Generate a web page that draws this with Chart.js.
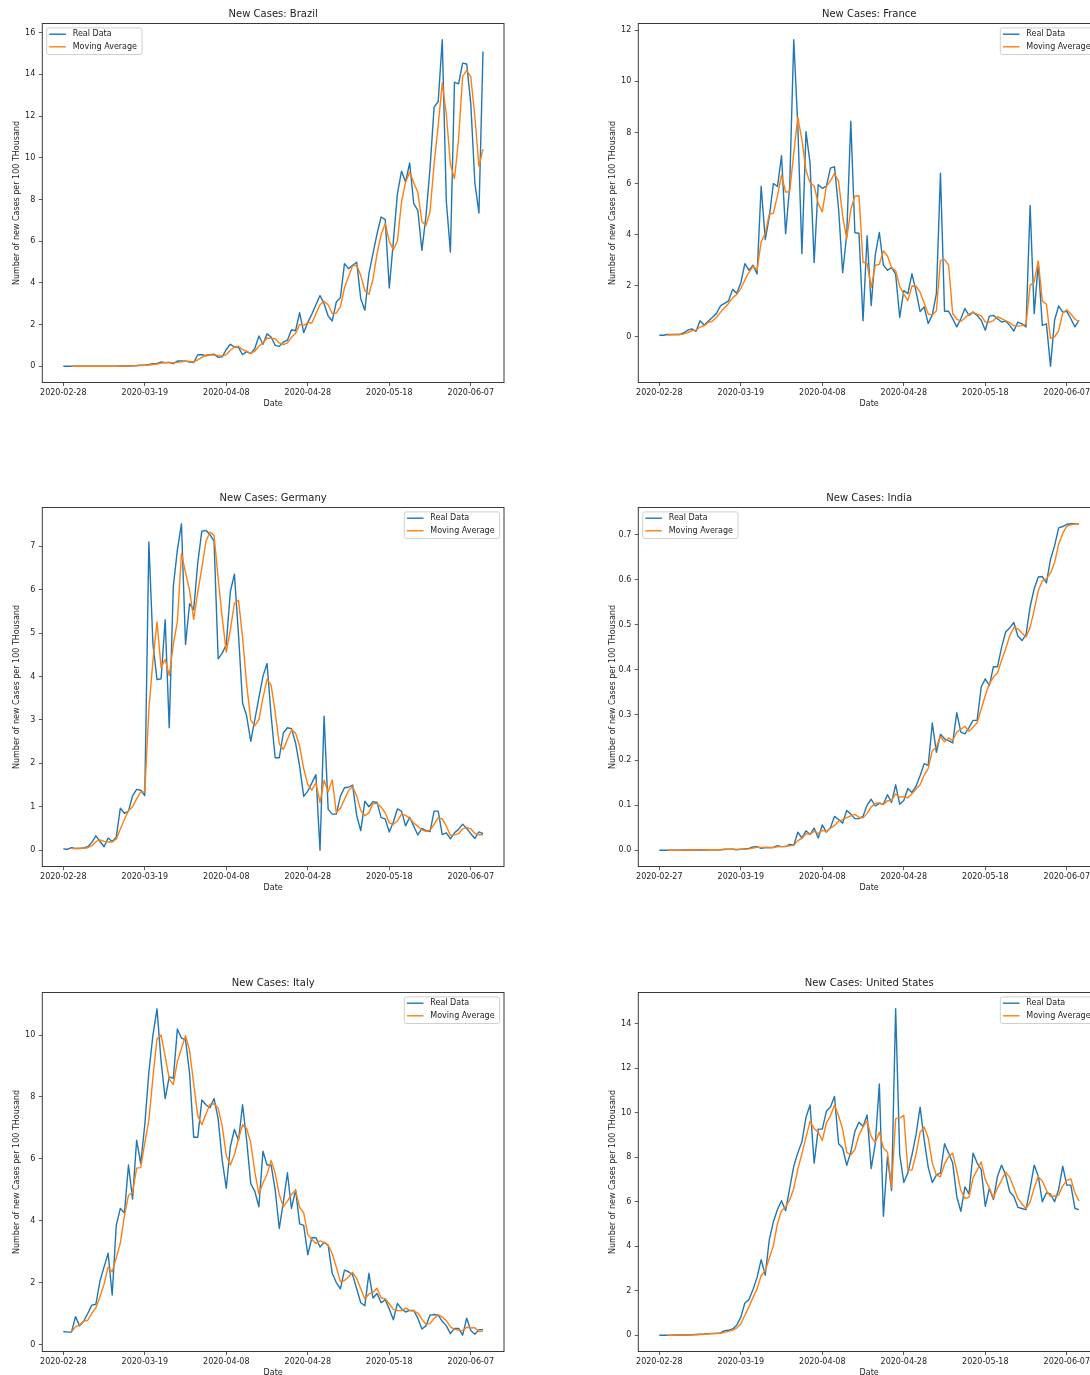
<!DOCTYPE html>
<html>
<head>
<meta charset="utf-8">
<script src="https://cdn.jsdelivr.net/npm/chart.js@4.4.1/dist/chart.umd.min.js"></script>
<style>
  html, body { margin: 0; padding: 0; background: #fff; width: 1090px; height: 1375px; overflow: hidden; }
  canvas { position: absolute; }
</style>
</head>
<body>
<canvas id="c0" width="520" height="413" style="left:0px;top:0px"></canvas>
<canvas id="c1" width="520" height="413" style="left:596px;top:0px"></canvas>
<canvas id="c2" width="520" height="413" style="left:0px;top:484px"></canvas>
<canvas id="c3" width="520" height="413" style="left:596px;top:484px"></canvas>
<canvas id="c4" width="520" height="413" style="left:0px;top:969px"></canvas>
<canvas id="c5" width="520" height="413" style="left:596px;top:969px"></canvas>
<script>
// Daily new cases per 100 thousand inhabitants, 28 Feb - 10 Jun 2020 (day index 0..103),
// with the 3-day moving average (undefined for the first two days).

const xTickDays = [0, 20, 40, 60, 80, 100];
const xTickLabels = ['2020-02-28', '2020-03-19', '2020-04-08', '2020-04-28', '2020-05-18', '2020-06-07'];
const xTickLabelsIndia = ['2020-02-27', '2020-03-19', '2020-04-08', '2020-04-28', '2020-05-18', '2020-06-07'];

const brazilYTicks = [0, 2, 4, 6, 8, 10, 12, 14, 16];
const franceYTicks = [0, 2, 4, 6, 8, 10, 12];
const germanyYTicks = [0, 1, 2, 3, 4, 5, 6, 7];
const indiaYTicks = [0, 0.1, 0.2, 0.3, 0.4, 0.5, 0.6, 0.7];
const italyYTicks = [0, 2, 4, 6, 8, 10];
const usYTicks = [0, 2, 4, 6, 8, 10, 12, 14];

const brazilReal = [
  0, 0, 0, 0, 0, 0, 0, 0, 0, 0,
  0, 0, 0, 0, 0.01, 0.01, 0.01, 0.02, 0.03, 0.05,
  0.05, 0.08, 0.12, 0.12, 0.2, 0.17, 0.18, 0.12, 0.25, 0.25,
  0.24, 0.2, 0.17, 0.55, 0.55, 0.5, 0.55, 0.58, 0.42, 0.45,
  0.8, 1.05, 0.92, 0.9, 0.55, 0.7, 0.6, 0.85, 1.45, 1.05,
  1.55, 1.4, 1.0, 0.95, 1.15, 1.25, 1.75, 1.7, 2.57, 1.61,
  2.1, 2.5, 2.95, 3.39, 3.0, 2.41, 2.17, 3.08, 3.29, 4.92,
  4.68, 4.84, 4.99, 3.24, 2.68, 4.44, 5.4, 6.36, 7.16, 7.03,
  3.75, 6.0, 8.28, 9.36, 8.84, 9.75, 7.8, 7.48, 5.56, 7.2,
  9.5, 12.43, 12.7, 15.66, 7.9, 5.48, 13.63, 13.55, 14.54, 14.5,
  12.6, 8.8, 7.35, 15.1
];
const brazilAvg = [
  null, null, 0, 0, 0, 0, 0, 0, 0, 0,
  0, 0, 0, 0, 0.003, 0.007, 0.01, 0.013, 0.02, 0.033,
  0.043, 0.06, 0.083, 0.107, 0.147, 0.163, 0.183, 0.157, 0.183, 0.207,
  0.247, 0.23, 0.203, 0.307, 0.423, 0.533, 0.533, 0.543, 0.517, 0.483,
  0.557, 0.767, 0.923, 0.957, 0.79, 0.717, 0.617, 0.717, 0.967, 1.117,
  1.35, 1.333, 1.317, 1.117, 1.033, 1.117, 1.383, 1.567, 2.007, 1.96,
  2.093, 2.07, 2.517, 2.947, 3.113, 2.933, 2.527, 2.553, 2.847, 3.763,
  4.297, 4.813, 4.837, 4.357, 3.637, 3.453, 4.173, 5.4, 6.307, 6.85,
  5.98, 5.593, 6.01, 7.88, 8.827, 9.317, 8.797, 8.343, 6.947, 6.747,
  7.42, 9.71, 11.543, 13.597, 12.087, 9.68, 9.003, 10.887, 13.907, 14.197,
  13.88, 11.967, 9.583, 10.417
];

const franceReal = [
  0.05, 0.05, 0.08, 0.08, 0.08, 0.08, 0.15, 0.25, 0.3, 0.2,
  0.62, 0.45, 0.6, 0.75, 0.9, 1.2, 1.3, 1.4, 1.85, 1.7,
  2.1, 2.86, 2.6, 2.8, 2.45, 5.89, 3.8, 4.7, 6.0, 5.88,
  7.09, 4.03, 5.9, 11.63, 8.24, 3.25, 8.03, 6.8, 2.9, 5.95,
  5.81, 5.9, 6.6, 6.66, 5.0, 2.5, 4.0, 8.44, 4.07, 4.05,
  0.62, 3.95, 1.22, 3.2, 4.08, 2.8, 2.6, 2.7, 2.45, 0.75,
  1.8, 1.68, 2.46, 1.78, 0.98, 1.16, 0.51, 0.85, 1.68, 6.4,
  0.99, 0.99, 0.7, 0.38, 0.7, 1.1, 0.83, 0.96, 0.83, 0.64,
  0.25, 0.8, 0.83, 0.7, 0.57, 0.61, 0.44, 0.22, 0.57, 0.5,
  0.38, 5.14, 0.9, 2.86, 0.44, 0.5, -1.16, 0.64, 1.2, 0.96,
  0.99, 0.7, 0.38, 0.64
];
const franceAvg = [
  null, null, 0.06, 0.07, 0.08, 0.08, 0.103, 0.16, 0.233, 0.25,
  0.373, 0.423, 0.557, 0.6, 0.75, 0.95, 1.133, 1.3, 1.517, 1.65,
  1.883, 2.22, 2.52, 2.753, 2.617, 3.713, 4.047, 4.797, 4.833, 5.527,
  6.323, 5.667, 5.673, 7.187, 8.59, 7.707, 6.507, 6.027, 5.91, 5.217,
  4.887, 5.887, 6.103, 6.387, 6.087, 4.72, 3.833, 4.98, 5.503, 5.52,
  2.913, 2.873, 1.93, 2.79, 2.833, 3.36, 3.16, 2.7, 2.583, 1.967,
  1.667, 1.41, 1.98, 1.973, 1.74, 1.307, 0.883, 0.84, 1.013, 2.977,
  3.023, 2.793, 0.893, 0.69, 0.593, 0.727, 0.877, 0.963, 0.873, 0.81,
  0.573, 0.563, 0.627, 0.777, 0.7, 0.627, 0.54, 0.423, 0.41, 0.43,
  0.483, 2.007, 2.14, 2.967, 1.4, 1.267, -0.073, -0.007, 0.227, 0.933,
  1.05, 0.883, 0.69, 0.573
];

const germanyReal = [
  0.03, 0.02, 0.06, 0.04, 0.04, 0.05, 0.08, 0.18, 0.33, 0.2,
  0.08, 0.28, 0.2, 0.3, 0.97, 0.85, 0.9, 1.25, 1.4, 1.38,
  1.26, 7.1, 4.75, 3.93, 3.95, 5.31, 2.82, 6.08, 6.92, 7.52,
  4.74, 5.68, 5.54, 6.62, 7.35, 7.37, 7.27, 7.12, 4.41, 4.54,
  4.74, 5.96, 6.36, 4.96, 3.39, 3.09, 2.51, 3.01, 3.51, 4.01,
  4.3, 3.1, 2.13, 2.13, 2.7, 2.82, 2.8, 2.47, 1.93, 1.24,
  1.36, 1.55, 1.74, 0.0, 3.09, 0.94, 0.83, 0.83, 1.24, 1.44,
  1.45, 1.5, 0.8, 0.45, 1.13, 1.0, 1.12, 1.1, 0.75, 0.72,
  0.42, 0.65, 0.95, 0.9, 0.56, 0.76, 0.55, 0.35, 0.5, 0.45,
  0.43, 0.9, 0.9, 0.36, 0.4, 0.26, 0.4, 0.48, 0.6, 0.5,
  0.38, 0.27, 0.42, 0.38
];
const germanyAvg = [
  null, null, 0.037, 0.04, 0.047, 0.043, 0.057, 0.103, 0.197, 0.237,
  0.203, 0.187, 0.187, 0.26, 0.49, 0.707, 0.907, 1.0, 1.183, 1.343,
  1.347, 3.247, 4.37, 5.26, 4.21, 4.397, 4.027, 4.737, 5.273, 6.84,
  6.393, 5.98, 5.32, 5.947, 6.503, 7.113, 7.33, 7.253, 6.267, 5.357,
  4.563, 5.08, 5.687, 5.76, 4.903, 3.813, 2.997, 2.87, 3.01, 3.51,
  3.94, 3.803, 3.177, 2.453, 2.32, 2.55, 2.773, 2.697, 2.4, 1.88,
  1.51, 1.383, 1.55, 1.097, 1.61, 1.343, 1.62, 0.867, 0.967, 1.17,
  1.377, 1.463, 1.25, 0.917, 0.793, 0.86, 1.083, 1.073, 0.99, 0.857,
  0.63, 0.597, 0.673, 0.833, 0.803, 0.74, 0.623, 0.553, 0.467, 0.433,
  0.46, 0.593, 0.743, 0.72, 0.553, 0.34, 0.353, 0.38, 0.493, 0.527,
  0.493, 0.383, 0.357, 0.357
];

const indiaReal = [
  0, 0, 0, 0, 0, 0, 0.0005, 0.0005, 0.0005, 0.0005,
  0.001, 0.0005, 0.001, 0.001, 0.001, 0.001, 0.002, 0.002, 0.002, 0.001,
  0.002, 0.003, 0.004, 0.007, 0.008, 0.004, 0.006, 0.006, 0.006, 0.01,
  0.008, 0.008, 0.013, 0.011, 0.04, 0.027, 0.043, 0.035, 0.049, 0.027,
  0.056, 0.04, 0.05, 0.075, 0.068, 0.06, 0.088, 0.08, 0.07, 0.07,
  0.075, 0.1, 0.113, 0.098, 0.104, 0.102, 0.123, 0.106, 0.145, 0.102,
  0.11, 0.137, 0.128, 0.142, 0.165, 0.192, 0.188, 0.282, 0.217, 0.257,
  0.247, 0.243, 0.238, 0.305, 0.262, 0.258, 0.272, 0.288, 0.288, 0.362,
  0.38, 0.365, 0.407, 0.407, 0.45, 0.484, 0.493, 0.505, 0.475, 0.465,
  0.478, 0.54, 0.58, 0.606, 0.607, 0.593, 0.645, 0.675, 0.715, 0.718,
  0.723, 0.724, 0.724, 0.724
];
const indiaAvg = [
  null, null, 0, 0, 0, 0, 0.0002, 0.0003, 0.0005, 0.0005,
  0.0007, 0.0007, 0.0008, 0.0008, 0.001, 0.001, 0.0013, 0.0017, 0.002, 0.0017,
  0.0017, 0.002, 0.003, 0.0047, 0.0063, 0.0063, 0.006, 0.0053, 0.006, 0.0073,
  0.008, 0.0087, 0.0097, 0.0107, 0.0213, 0.026, 0.0367, 0.035, 0.0423, 0.037,
  0.044, 0.041, 0.0487, 0.055, 0.0643, 0.0677, 0.072, 0.076, 0.0793, 0.0733,
  0.0717, 0.0817, 0.096, 0.1037, 0.105, 0.1013, 0.1097, 0.1103, 0.1247, 0.1177,
  0.119, 0.1163, 0.125, 0.1357, 0.145, 0.1663, 0.1817, 0.2207, 0.229, 0.252,
  0.2403, 0.249, 0.2427, 0.262, 0.2683, 0.275, 0.264, 0.2727, 0.2827, 0.3127,
  0.3433, 0.369, 0.384, 0.393, 0.4213, 0.447, 0.4757, 0.494, 0.491, 0.4817,
  0.4727, 0.4943, 0.5327, 0.5753, 0.5977, 0.602, 0.615, 0.6377, 0.6783, 0.7027,
  0.7187, 0.7217, 0.7237, 0.724
];

const italyReal = [
  0.42, 0.4, 0.4, 0.9, 0.6, 0.75, 1.0, 1.27, 1.3, 2.05,
  2.5, 2.95, 1.6, 3.85, 4.4, 4.25, 5.8, 4.7, 6.6, 5.85,
  7.1, 8.8, 10.0, 10.85, 9.15, 7.95, 8.65, 8.6, 10.2, 9.9,
  9.85, 8.75, 6.7, 6.7, 7.9, 7.75, 7.65, 7.95, 7.3, 5.95,
  5.05, 6.4, 6.95, 6.6, 7.75, 6.6, 5.2, 4.95, 4.45, 6.25,
  5.8, 5.8, 5.0, 3.75, 4.6, 5.55, 4.4, 5.0, 3.9, 3.85,
  2.9, 3.45, 3.45, 3.15, 3.3, 3.2, 2.3, 2.0, 1.8, 2.4,
  2.35, 2.25, 1.8, 1.35, 1.25, 2.3, 1.5, 1.65, 1.35, 1.45,
  1.15, 0.8, 1.33, 1.15, 1.05, 1.1, 1.1, 0.85, 0.5, 0.6,
  0.95, 0.97, 0.95, 0.75, 0.6, 0.35, 0.52, 0.52, 0.3, 0.85,
  0.45, 0.33, 0.48, 0.48
];
const italyAvg = [
  null, null, 0.407, 0.567, 0.633, 0.75, 0.783, 1.007, 1.19, 1.54,
  1.95, 2.5, 2.35, 2.8, 3.283, 4.167, 4.817, 4.917, 5.7, 5.717,
  6.517, 7.25, 8.633, 9.883, 10.0, 9.317, 8.583, 8.4, 9.15, 9.567,
  9.983, 9.5, 8.433, 7.383, 7.1, 7.45, 7.767, 7.783, 7.633, 7.067,
  6.1, 5.8, 6.133, 6.65, 7.1, 6.983, 6.517, 5.583, 4.867, 5.217,
  5.5, 5.95, 5.533, 4.85, 4.45, 4.633, 4.85, 4.983, 4.433, 4.25,
  3.55, 3.4, 3.267, 3.35, 3.3, 3.217, 2.933, 2.5, 2.033, 2.067,
  2.183, 2.333, 2.133, 1.8, 1.467, 1.633, 1.683, 1.817, 1.5, 1.483,
  1.317, 1.133, 1.093, 1.093, 1.177, 1.1, 1.083, 1.017, 0.817, 0.65,
  0.683, 0.84, 0.957, 0.89, 0.767, 0.567, 0.49, 0.463, 0.447, 0.557,
  0.533, 0.543, 0.42, 0.43
];

const usReal = [
  0, 0, 0, 0, 0.01, 0.01, 0.01, 0.01, 0.02, 0.03,
  0.04, 0.05, 0.07, 0.08, 0.08, 0.1, 0.2, 0.22, 0.28, 0.45,
  0.8, 1.45, 1.6, 2.05, 2.6, 3.4, 2.7, 4.3, 5.1, 5.65,
  6.05, 5.6, 6.6, 7.6, 8.2, 8.7, 9.8, 10.36, 7.74, 9.27,
  9.27, 10.07, 10.26, 10.74, 8.61, 8.42, 7.64, 8.25, 9.17, 9.58,
  9.39, 9.91, 7.49, 8.6, 11.3, 5.35, 8.04, 6.5, 14.68, 8.12,
  6.87, 7.3, 8.1, 9.02, 10.26, 8.8, 7.55, 6.87, 7.2, 7.3,
  8.61, 8.19, 7.74, 6.24, 5.57, 6.67, 6.36, 8.19, 7.74, 7.45,
  5.8, 6.6, 6.1, 7.15, 7.65, 7.2, 6.45, 6.25, 5.75, 5.7,
  5.65, 6.6, 7.65, 7.15, 6.0, 6.4, 6.35, 6.0, 6.55, 7.6,
  6.75, 6.75, 5.7, 5.65
];
const usAvg = [
  null, null, 0, 0, 0.003, 0.007, 0.01, 0.01, 0.013, 0.02,
  0.03, 0.04, 0.053, 0.067, 0.077, 0.087, 0.127, 0.173, 0.233, 0.317,
  0.51, 0.9, 1.283, 1.7, 2.083, 2.683, 2.9, 3.467, 4.033, 5.017,
  5.6, 5.767, 6.083, 6.6, 7.467, 8.167, 8.9, 9.62, 9.3, 9.123,
  8.76, 9.537, 9.867, 10.357, 9.87, 9.257, 8.223, 8.103, 8.353, 9.0,
  9.38, 9.627, 8.93, 8.667, 9.13, 8.417, 8.23, 6.63, 9.74, 9.767,
  9.89, 7.43, 7.423, 8.14, 9.127, 9.36, 8.87, 7.74, 7.207, 7.123,
  7.703, 8.033, 8.18, 7.39, 6.517, 6.16, 6.2, 7.073, 7.43, 7.793,
  6.997, 6.617, 6.167, 6.617, 6.967, 7.333, 7.1, 6.633, 6.15, 5.9,
  5.7, 5.983, 6.633, 7.133, 6.933, 6.517, 6.25, 6.25, 6.3, 6.717,
  6.967, 7.033, 6.4, 6.033
];

const FONT = "'DejaVu Sans', 'Liberation Sans', sans-serif";
const TEXT = '#1c1c1c';
const BLUE = '#1f77b4';
const ORANGE = '#ff7f0e';

// Title centred over the plotting area
const panelTitle = {
  id: 'panelTitle',
  afterDraw(chart, args, opts) {
    const { ctx, chartArea: a } = chart;
    ctx.save();
    ctx.font = '10px ' + FONT;
    ctx.fillStyle = TEXT;
    ctx.textAlign = 'center';
    ctx.textBaseline = 'middle';
    ctx.fillText(opts.text, (a.left + a.right) / 2, a.top - 9.5);
    ctx.restore();
  }
};

// Four-sided frame round the plotting area
const axesFrame = {
  id: 'axesFrame',
  afterDatasetsDraw(chart) {
    const { ctx, chartArea: a } = chart;
    ctx.save();
    ctx.strokeStyle = '#3a3a3a';
    ctx.lineWidth = 1;
    ctx.strokeRect(a.left, a.top, a.right - a.left, a.bottom - a.top);
    ctx.restore();
  }
};

// Boxed legend inside a corner of the plotting area
const insetLegend = {
  id: 'insetLegend',
  afterDatasetsDraw(chart, args, opts) {
    const { ctx, chartArea: a } = chart;
    const sets = chart.data.datasets;
    ctx.save();
    ctx.font = '8px ' + FONT;
    const tw = Math.max(...sets.map(d => ctx.measureText(d.label).width));
    const w = 26 + tw + 5, h = 26.6;
    const x = opts.corner === 'left' ? a.left + 4.4 : a.right - 4.4 - w;
    const y = a.top + 4.4;
    ctx.beginPath();
    ctx.roundRect(x, y, w, h, 2);
    ctx.fillStyle = 'rgba(255,255,255,0.85)';
    ctx.fill();
    ctx.strokeStyle = '#cfcfcf';
    ctx.lineWidth = 1;
    ctx.stroke();
    sets.forEach((d, k) => {
      const cy = y + 6.3 + k * 12.6;
      ctx.strokeStyle = d.borderColor;
      ctx.lineWidth = d.borderWidth;
      ctx.beginPath();
      ctx.moveTo(x + 2.6, cy);
      ctx.lineTo(x + 19.2, cy);
      ctx.stroke();
      ctx.fillStyle = TEXT;
      ctx.textBaseline = 'middle';
      ctx.textAlign = 'left';
      ctx.fillText(d.label, x + 26, cy);
    });
    ctx.restore();
  }
};

const panels = [
  { id: 'c0', country: 'Brazil', real: brazilReal, avg: brazilAvg, yTicks: brazilYTicks, xLabels: xTickLabels, corner: 'left', decimals: 0 },
  { id: 'c1', country: 'France', real: franceReal, avg: franceAvg, yTicks: franceYTicks, xLabels: xTickLabels, corner: 'right', decimals: 0 },
  { id: 'c2', country: 'Germany', real: germanyReal, avg: germanyAvg, yTicks: germanyYTicks, xLabels: xTickLabels, corner: 'right', decimals: 0 },
  { id: 'c3', country: 'India', real: indiaReal, avg: indiaAvg, yTicks: indiaYTicks, xLabels: xTickLabelsIndia, corner: 'left', decimals: 1 },
  { id: 'c4', country: 'Italy', real: italyReal, avg: italyAvg, yTicks: italyYTicks, xLabels: xTickLabels, corner: 'right', decimals: 0 },
  { id: 'c5', country: 'United States', real: usReal, avg: usAvg, yTicks: usYTicks, xLabels: xTickLabels, corner: 'right', decimals: 0 }
];

function axisGrid() {
  return { drawOnChartArea: false, drawTicks: true, tickLength: 3.5, color: '#333', lineWidth: 0.8 };
}

panels.forEach(p => {
  const values = p.real.concat(p.avg.filter(v => v !== null));
  const lo = Math.min(...values), hi = Math.max(...values);
  const yPad = (hi - lo) * 0.05;
  const n = p.real.length;
  const xPad = (n - 1) * 0.05;

  new Chart(document.getElementById(p.id), {
    type: 'line',
    data: {
      datasets: [
        { label: 'Real Data', data: p.real.map((v, i) => ({ x: i, y: v })), borderColor: BLUE, borderWidth: 1.4, order: 1 },
        { label: 'Moving Average', data: p.avg.map((v, i) => ({ x: i, y: v })), borderColor: ORANGE, borderWidth: 1.4, order: 0 }
      ]
    },
    options: {
      responsive: false,
      animation: false,
      devicePixelRatio: 1,
      layout: { padding: { top: 23.5, right: 16, left: 0, bottom: 0 } },
      elements: {
        point: { radius: 0, hoverRadius: 0 },
        line: { tension: 0, fill: false, borderJoinStyle: 'round' }
      },
      plugins: {
        legend: { display: false },
        tooltip: { enabled: false },
        panelTitle: { text: 'New Cases: ' + p.country },
        insetLegend: { corner: p.corner }
      },
      scales: {
        x: {
          type: 'linear',
          bounds: 'data',
          min: -xPad,
          max: n - 1 + xPad,
          afterBuildTicks: s => { s.ticks = xTickDays.map(v => ({ value: v })); },
          afterFit: s => { s.height = 30.5; },
          ticks: {
            autoSkip: false, maxRotation: 0, padding: 1.7, color: TEXT,
            font: { family: FONT, size: 8 },
            callback: (v, i) => p.xLabels[i]
          },
          grid: axisGrid(),
          border: { display: false },
          title: { display: true, text: 'Date', color: TEXT, font: { family: FONT, size: 8 }, padding: { top: 0, bottom: 4.1 } }
        },
        y: {
          type: 'linear',
          bounds: 'data',
          min: lo - yPad,
          max: hi + yPad,
          afterBuildTicks: s => { s.ticks = p.yTicks.map(v => ({ value: v })); },
          afterFit: s => { s.width = 42.3; },
          ticks: {
            padding: 3.5, color: TEXT,
            font: { family: FONT, size: 8 },
            callback: v => Number(v).toFixed(p.decimals)
          },
          grid: axisGrid(),
          border: { display: false },
          title: { display: true, text: 'Number of new Cases per 100 THousand', color: TEXT, font: { family: FONT, size: 8 }, padding: { top: 11.7, bottom: 0 } }
        }
      }
    },
    plugins: [axesFrame, insetLegend, panelTitle]
  });
});
</script>
</body>
</html>
